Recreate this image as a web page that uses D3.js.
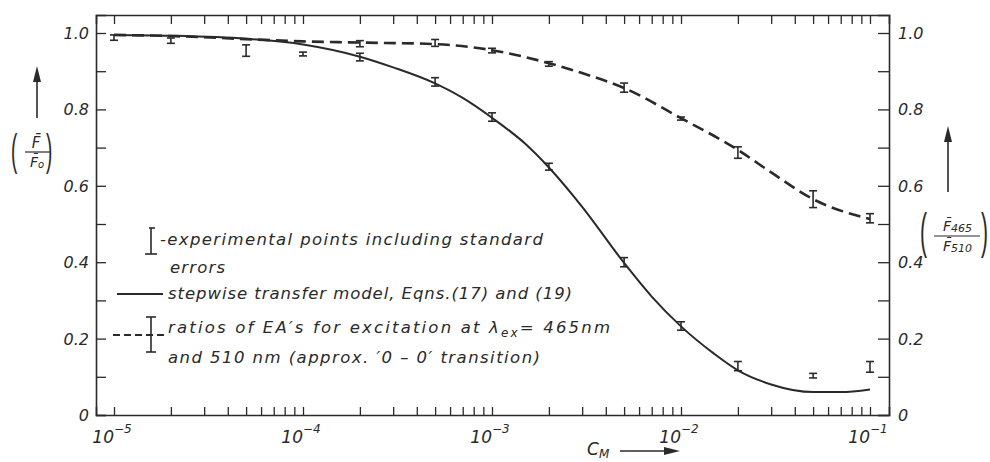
<!DOCTYPE html>
<html><head><meta charset="utf-8">
<script src="https://cdn.jsdelivr.net/npm/d3@7"></script>
<style>
html,body{margin:0;padding:0;background:#fff;}
text{font-family:"DejaVu Sans",sans-serif;font-style:italic;fill:#2a2a2a;}
</style></head>
<body>
<svg id="chart" width="990" height="462"></svg>
<script>
// ---- data ----
const concentrations = [1e-5, 2e-5, 5e-5, 1e-4, 2e-4, 5e-4, 1e-3, 2e-3, 5e-3, 1e-2, 2e-2, 5e-2, 1e-1];
const fRatio      = [0.988, 0.980, 0.954, 0.945, 0.937, 0.872, 0.780, 0.650, 0.400, 0.233, 0.128, 0.103, 0.126];
const fRatioErr   = [0.007, 0.007, 0.015, 0.005, 0.010, 0.011, 0.011, 0.009, 0.012, 0.011, 0.012, 0.006, 0.014];

const eaConc   = [2e-4, 5e-4, 1e-3, 2e-3, 5e-3, 1e-2, 2e-2, 5e-2, 1e-1];
const eaRatio  = [0.972, 0.974, 0.954, 0.919, 0.857, 0.776, 0.687, 0.565, 0.515];
const eaErr    = [0.008, 0.009, 0.006, 0.006, 0.012, 0.004, 0.015, 0.022, 0.012];

const modelConc  = [1e-5, 2e-5, 5e-5, 1e-4, 2e-4, 3e-4, 5e-4, 7e-4, 1e-3, 1.5e-3, 2e-3, 3e-3, 5e-3, 7e-3, 1e-2, 1.5e-2, 2e-2, 3e-2, 5e-2, 7e-2, 1e-1];
const modelValue = [0.995, 0.993, 0.985, 0.970, 0.938, 0.910, 0.868, 0.830, 0.778, 0.710, 0.648, 0.545, 0.398, 0.310, 0.232, 0.160, 0.117, 0.080, 0.060, 0.060, 0.067];

const eaCurveConc  = [1e-5, 2e-5, 5e-5, 1e-4, 2e-4, 5e-4, 1e-3, 2e-3, 3e-3, 5e-3, 1e-2, 2e-2, 3e-2, 5e-2, 1e-1];
const eaCurveValue = [0.995, 0.992, 0.984, 0.978, 0.975, 0.971, 0.955, 0.921, 0.895, 0.856, 0.777, 0.694, 0.635, 0.565, 0.513];

const decades = [1e-5, 1e-4, 1e-3, 1e-2, 1e-1];
const decadeExponents = ["\u22125", "\u22124", "\u22123", "\u22122", "\u22121"];
const yTickValues = [0, 0.2, 0.4, 0.6, 0.8, 1.0];
const yTickLabels = ["0", "0.2", "0.4", "0.6", "0.8", "1.0"];
const yMinorValues = [0.1, 0.3, 0.5, 0.7, 0.9];

const legendLines = [
  "-experimental points including standard",
  "errors",
  "stepwise transfer model, Eqns.(17) and (19)",
  "ratios of EA\u2032s for excitation at  \u03bb",
  "and 510 nm  (approx. \u20320 \u2013 0\u2032 transition)"
];

// ---- layout ----
const ink = "#2a2a2a";
const L = 96, R = 889, T = 15, B = 415;
const svg = d3.select("#chart");

const x = d3.scaleLog().domain([1e-5, 1e-1]).range([114, 870]);
const xFull = d3.scaleLog().domain([x.invert(L), x.invert(R)]).range([L, R]);
const y = d3.scaleLinear().domain([0, 1]).range([B, 33]);

const logTicks = [];
decades.forEach((d, i) => {
  for (let m = 1; m <= 9; m++) {
    if (i === decades.length - 1 && m > 1) break;
    logTicks.push(d * m);
  }
});

const gB = svg.append("g").attr("transform", `translate(0,${B})`)
  .call(d3.axisBottom(xFull).tickValues(logTicks).tickSize(-8).tickFormat(""));
const gT = svg.append("g").attr("transform", `translate(0,${T})`)
  .call(d3.axisTop(xFull).tickValues(logTicks).tickSize(-9).tickFormat(""));
const yFull = d3.scaleLinear().domain([y.invert(B), y.invert(T)]).range([B, T]);
const gL = svg.append("g").attr("transform", `translate(${L},0)`)
  .call(d3.axisLeft(yFull).tickValues(yTickValues.concat(yMinorValues)).tickSize(-10).tickFormat(""));
const gR = svg.append("g").attr("transform", `translate(${R},0)`)
  .call(d3.axisRight(yFull).tickValues(yTickValues.concat(yMinorValues)).tickSize(-11).tickFormat(""));
[gB, gT, gL, gR].forEach(g => {
  g.select(".domain").attr("stroke", ink).attr("stroke-width", 1.6);
  g.selectAll(".tick line").attr("stroke", ink).attr("stroke-width", 1.3);
});

// x tick labels
decades.forEach((d, i) => {
  const t = svg.append("text").attr("x", x(d) - 2).attr("y", 443)
    .attr("text-anchor", "middle").style("font-size", "17px");
  t.append("tspan").text("10");
  t.append("tspan").attr("dy", -10).style("font-size", "12px").text(decadeExponents[i]);
});

// y tick labels
yTickValues.forEach((v, i) => {
  svg.append("text").attr("x", 89).attr("y", y(v) + 6).attr("text-anchor", "end")
    .style("font-size", "16px").text(yTickLabels[i]);
  svg.append("text").attr("x", 898).attr("y", y(v) + 6).attr("text-anchor", "start")
    .style("font-size", "16px").text(yTickLabels[i]);
});

// curves
const line = d3.line().x(d => x(d[0])).y(d => y(d[1])).curve(d3.curveMonotoneX);
svg.append("path").datum(modelConc.map((c, i) => [c, modelValue[i]]))
  .attr("d", line).attr("fill", "none").attr("stroke", ink).attr("stroke-width", 2);
svg.append("path").datum(eaCurveConc.map((c, i) => [c, eaCurveValue[i]]))
  .attr("d", line).attr("fill", "none").attr("stroke", ink).attr("stroke-width", 2.6)
  .attr("stroke-dasharray", "12,6");

// error bars
function errorBars(cs, vs, es) {
  const g = svg.append("g").attr("stroke", ink).attr("stroke-width", 1.6);
  cs.forEach((c, i) => {
    const cx = x(c), y1 = y(vs[i] - es[i]), y2 = y(vs[i] + es[i]);
    g.append("line").attr("x1", cx).attr("x2", cx).attr("y1", y1).attr("y2", y2);
    g.append("line").attr("x1", cx - 4).attr("x2", cx + 4).attr("y1", y1).attr("y2", y1);
    g.append("line").attr("x1", cx - 4).attr("x2", cx + 4).attr("y1", y2).attr("y2", y2);
  });
}
errorBars(concentrations, fRatio, fRatioErr);
errorBars(eaConc, eaRatio, eaErr);

// legend
const lg = svg.append("g").attr("stroke", ink).attr("stroke-width", 1.6);
lg.append("line").attr("x1", 151).attr("x2", 151).attr("y1", 228).attr("y2", 254);
lg.append("line").attr("x1", 149).attr("x2", 155).attr("y1", 228).attr("y2", 228);
lg.append("line").attr("x1", 145).attr("x2", 157).attr("y1", 254).attr("y2", 254);
lg.append("line").attr("x1", 117).attr("x2", 163).attr("y1", 294).attr("y2", 294).attr("stroke-width", 1.8);
lg.append("line").attr("x1", 113).attr("x2", 165).attr("y1", 335).attr("y2", 335).attr("stroke-dasharray", "7,4").attr("stroke-width", 1.8);
lg.append("line").attr("x1", 151).attr("x2", 151).attr("y1", 317).attr("y2", 352);
lg.append("line").attr("x1", 146).attr("x2", 156).attr("y1", 317).attr("y2", 317);
lg.append("line").attr("x1", 146).attr("x2", 156).attr("y1", 352).attr("y2", 352);

const fs = "16.5px";
svg.append("text").attr("x", 160).attr("y", 245).style("font-size", fs)
  .attr("textLength", 383).attr("lengthAdjust", "spacing").text(legendLines[0]);
svg.append("text").attr("x", 170).attr("y", 273).style("font-size", fs)
  .attr("textLength", 55).attr("lengthAdjust", "spacing").text(legendLines[1]);
svg.append("text").attr("x", 168).attr("y", 299).style("font-size", fs)
  .attr("textLength", 404).attr("lengthAdjust", "spacing").text(legendLines[2]);
const l4 = svg.append("text").attr("x", 168).attr("y", 333).style("font-size", fs)
  .attr("textLength", 442).attr("lengthAdjust", "spacing");
l4.append("tspan").text(legendLines[3]);
l4.append("tspan").attr("dy", 4).style("font-size", "12px").text("ex");
l4.append("tspan").attr("dy", -4).text("= 465nm");
svg.append("text").attr("x", 168).attr("y", 363).style("font-size", fs)
  .attr("textLength", 372).attr("lengthAdjust", "spacing").text(legendLines[4]);

// x axis title
const xt = svg.append("text").attr("x", 587).attr("y", 455).style("font-size", "17px");
xt.append("tspan").text("C");
xt.append("tspan").attr("dy", 3).style("font-size", "12px").text("M");
svg.append("line").attr("x1", 620).attr("x2", 668).attr("y1", 451).attr("y2", 451).attr("stroke", ink).attr("stroke-width", 1.6);
svg.append("path").attr("d", "M664,447 L680,451 L664,455 Z").attr("fill", ink);

// left y title
svg.append("line").attr("x1", 37).attr("x2", 37).attr("y1", 118).attr("y2", 76).attr("stroke", ink).attr("stroke-width", 1.6);
svg.append("path").attr("d", "M33,82 L37,66 L41,82 Z").attr("fill", ink);
svg.append("text").attr("transform", "translate(11,165) scale(1,2.3)").style("font-size", "19px").style("font-style", "normal").style("font-family", "Liberation Sans").text("(");
svg.append("text").attr("transform", "translate(46,165) scale(1,2.3)").style("font-size", "19px").style("font-style", "normal").style("font-family", "Liberation Sans").text(")");
svg.append("text").attr("x", 36).attr("y", 148).attr("text-anchor", "middle").style("font-size", "15px").text("F\u0304");
svg.append("line").attr("x1", 25).attr("x2", 50).attr("y1", 152).attr("y2", 152).attr("stroke", ink).attr("stroke-width", 1.2);
const den = svg.append("text").attr("x", 37).attr("y", 167).attr("text-anchor", "middle").style("font-size", "14px");
den.append("tspan").text("F\u0304");
den.append("tspan").attr("dy", 1).style("font-size", "10px").text("o");

// right y title
svg.append("line").attr("x1", 948).attr("x2", 948).attr("y1", 192).attr("y2", 138).attr("stroke", ink).attr("stroke-width", 1.6);
svg.append("path").attr("d", "M944,142 L948,126 L952,142 Z").attr("fill", ink);
svg.append("text").attr("transform", "translate(920,248) scale(1,2.4)").style("font-size", "21px").style("font-style", "normal").style("font-family", "Liberation Sans").text("(");
svg.append("text").attr("transform", "translate(981,248) scale(1,2.4)").style("font-size", "21px").style("font-style", "normal").style("font-family", "Liberation Sans").text(")");
const num = svg.append("text").attr("x", 943).attr("y", 231).style("font-size", "14px");
num.append("tspan").text("F\u0304");
num.append("tspan").attr("dy", 1).style("font-size", "11px").text("465");
svg.append("line").attr("x1", 934).attr("x2", 980).attr("y1", 236).attr("y2", 236).attr("stroke", ink).attr("stroke-width", 1.2);
const den2 = svg.append("text").attr("x", 943).attr("y", 251).style("font-size", "14px");
den2.append("tspan").text("F\u0304");
den2.append("tspan").attr("dy", 1).style("font-size", "11px").text("510");
</script>
</body></html>
